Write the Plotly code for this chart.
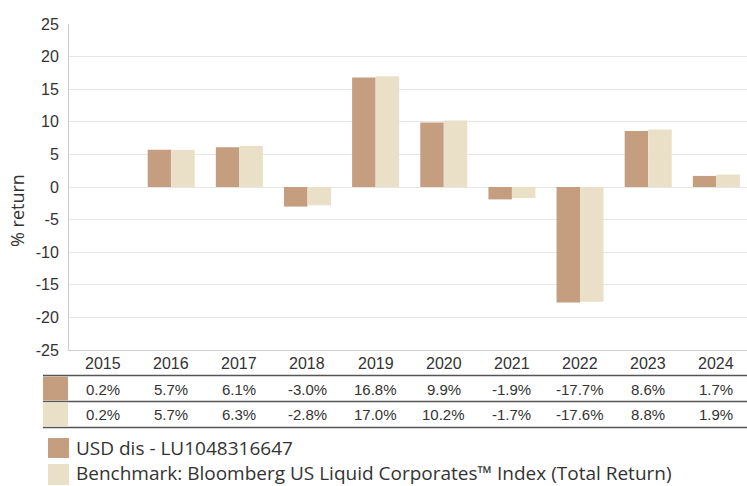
import plotly.graph_objects as go

years = ["2015", "2016", "2017", "2018", "2019", "2020", "2021", "2022", "2023", "2024"]
fund_name = "USD dis - LU1048316647"
bench_name = "Benchmark: Bloomberg US Liquid Corporates™ Index (Total Return)"
fund_returns = [0.2, 5.7, 6.1, -3.0, 16.8, 9.9, -1.9, -17.7, 8.6, 1.7]
bench_returns = [0.2, 5.7, 6.3, -2.8, 17.0, 10.2, -1.7, -17.6, 8.8, 1.9]
# 2015 (inception year) is shown in the table only, no bar drawn
fund_bars = [None, 5.7, 6.1, -3.0, 16.8, 9.9, -1.9, -17.7, 8.6, 1.7]
bench_bars = [None, 5.7, 6.3, -2.8, 17.0, 10.2, -1.7, -17.6, 8.8, 1.9]
y_ticks = [-25, -20, -15, -10, -5, 0, 5, 10, 15, 20, 25]
y_tick_labels = [str(v) for v in y_ticks]

fund_color = "#c49e7f"
bench_color = "#eae0c8"

W, H = 747, 486
L, R, T, B = 69, 747, 24, 350


def py(p):
    return (B - p) / (B - T)


def px(p):
    return (p - L) / (R - L)


fig = go.Figure()
fig.add_bar(x=years, y=fund_bars, name=fund_name, marker=dict(color=fund_color, line=dict(width=0)),
            showlegend=False, hoverinfo="skip")
fig.add_bar(x=years, y=bench_bars, name=bench_name, marker=dict(color=bench_color, line=dict(width=0)),
            showlegend=False, hoverinfo="skip")

yfont = dict(family="Liberation Sans, Arial, sans-serif", size=16, color="#333333")
tfont = dict(family="Liberation Sans, Arial, sans-serif", size=15, color="#333333")
ann = []
shapes = []
for i, yr in enumerate(years):
    ann.append(dict(x=i, xref="x", y=py(363), yref="paper", text=yr, showarrow=False, font=yfont,
                    xanchor="center", yanchor="middle"))
    ann.append(dict(x=i, xref="x", y=py(389), yref="paper", text=f"{fund_returns[i]:.1f}%", showarrow=False,
                    font=tfont, xanchor="center", yanchor="middle"))
    ann.append(dict(x=i, xref="x", y=py(414.5), yref="paper", text=f"{bench_returns[i]:.1f}%", showarrow=False,
                    font=tfont, xanchor="center", yanchor="middle"))

for yl in (375.5, 401.5, 427.5):
    shapes.append(dict(type="line", xref="paper", yref="paper", x0=px(43), x1=px(747), y0=py(yl), y1=py(yl),
                       line=dict(color="#555555", width=1.5)))
# table colour keys
shapes.append(dict(type="rect", xref="paper", yref="paper", x0=px(43), x1=px(68), y0=py(376.5), y1=py(400.5),
                   fillcolor=fund_color, line=dict(width=0)))
shapes.append(dict(type="rect", xref="paper", yref="paper", x0=px(43), x1=px(68), y0=py(402.5), y1=py(426.5),
                   fillcolor=bench_color, line=dict(width=0)))
# legend keys
shapes.append(dict(type="rect", xref="paper", yref="paper", x0=px(48), x1=px(69), y0=py(438), y1=py(458),
                   fillcolor=fund_color, line=dict(width=0)))
shapes.append(dict(type="rect", xref="paper", yref="paper", x0=px(48), x1=px(69), y0=py(464), y1=py(485),
                   fillcolor=bench_color, line=dict(width=0)))

lfont = dict(family="Open Sans, Noto Sans, sans-serif", size=19, color="#333333")
ann.append(dict(x=px(75), y=py(448), xref="paper", yref="paper", text=fund_name, showarrow=False, font=lfont,
                xanchor="left", yanchor="middle", borderpad=0))
ann.append(dict(x=px(75), y=py(473), xref="paper", yref="paper", text=bench_name, showarrow=False, font=lfont,
                xanchor="left", yanchor="middle", borderpad=0))
ann.append(dict(x=px(17), y=py(211), xref="paper", yref="paper", text="% return", showarrow=False, textangle=-90,
                font=dict(family="Open Sans, Noto Sans, sans-serif", size=18, color="#333333"),
                xanchor="center", yanchor="middle"))

fig.update_layout(
    width=W, height=H,
    margin=dict(l=L, r=W - R, t=T, b=H - B, pad=0),
    plot_bgcolor="white", paper_bgcolor="white",
    barmode="group", bargap=0.31, bargroupgap=0.0,
    annotations=ann, shapes=shapes,
    xaxis=dict(type="category", range=[-0.5, 9.45], showticklabels=False, showgrid=False, zeroline=False,
               showline=True, linecolor="#cccccc", linewidth=1, ticks="", fixedrange=True),
    yaxis=dict(range=[-25, 25], tickvals=y_ticks, ticktext=y_tick_labels, showgrid=True, gridcolor="#e6e6e6",
               gridwidth=1, zeroline=True, zerolinecolor="#e6e6e6", zerolinewidth=1,
               showline=True, linecolor="#cccccc", linewidth=1, ticks="",
               tickfont=dict(family="Liberation Sans, Arial, sans-serif", size=16, color="#333333"),
               ticklabelstandoff=6, fixedrange=True),
    font=dict(family="Liberation Sans, Arial, sans-serif"),
)

fig.write_html("out.html", config={"displayModeBar": False},
               post_script="document.body.style.margin='0px';document.body.style.overflow='hidden';")
